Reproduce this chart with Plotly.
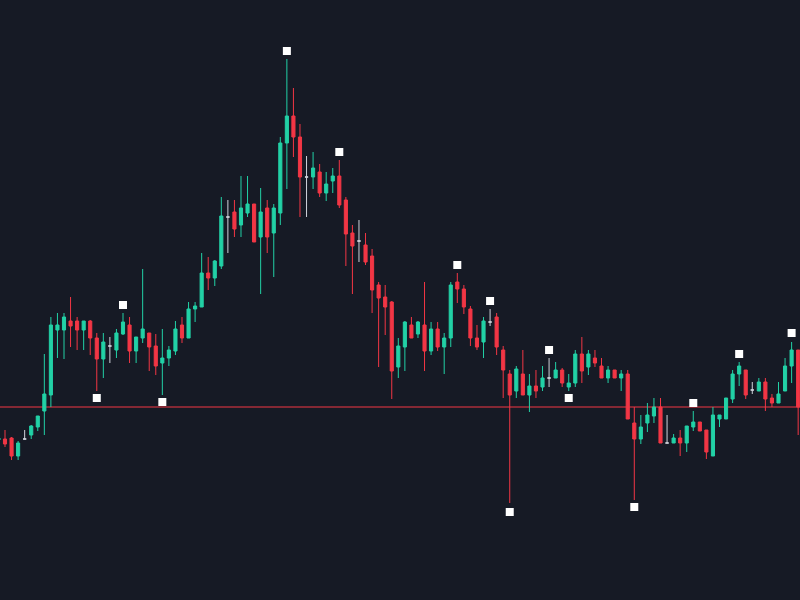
import plotly.graph_objects as go

# bar index
bars = list(range(123))

opens = [36.0, 36.1, 36.2, 34.4, 36.1, 36.5, 37.3, 38.9, 40.5, 47.0,
         47.0, 47.9, 47.9, 47.0, 47.9, 46.2, 44.1, 45.4, 45.0, 46.6,
         47.5, 44.9, 46.2, 46.7, 45.4, 43.7, 44.2, 44.9, 47.5, 46.2,
         49.1, 49.3, 52.7, 52.2, 53.4, 58.3, 58.8, 57.5, 58.7, 59.6,
         56.3, 59.2, 56.7, 58.7, 65.7, 68.4, 66.3, 62.3, 62.3, 62.8,
         60.7, 61.9, 62.4, 60.0, 56.7, 55.9, 55.5, 54.4, 51.5, 50.3,
         49.8, 43.3, 45.3, 47.5, 46.6, 47.5, 44.9, 47.1, 45.3, 46.2,
         51.8, 51.1, 49.1, 46.2, 45.8, 47.8, 48.3, 45.0, 42.6, 40.9,
         42.6, 40.5, 41.4, 41.3, 42.2, 42.2, 43.0, 41.3, 41.7, 44.6,
         43.3, 44.2, 43.4, 42.2, 43.0, 42.2, 42.6, 37.7, 36.1, 37.7,
         38.4, 39.3, 35.7, 35.7, 36.2, 35.7, 37.3, 37.8, 37.0, 34.4,
         38.1, 38.1, 40.1, 42.6, 43.0, 41.0, 40.9, 41.8, 40.2, 39.7,
         40.9, 43.4, 45.0]
highs = [36.4, 37.0, 36.3, 35.9, 37.0, 37.5, 38.4, 44.6, 48.3, 48.7,
         48.7, 50.3, 48.3, 47.9, 48.0, 46.7, 46.7, 46.3, 47.1, 48.7,
         48.3, 46.3, 53.1, 46.7, 46.6, 47.1, 45.4, 47.9, 48.3, 49.8,
         49.8, 54.7, 54.3, 54.0, 60.3, 60.0, 60.0, 62.4, 62.4, 59.6,
         61.2, 60.0, 59.6, 66.3, 74.1, 71.2, 67.6, 64.4, 64.8, 63.6,
         62.8, 63.2, 64.0, 60.3, 57.5, 58.0, 56.7, 55.1, 51.8, 51.5,
         49.9, 46.2, 47.9, 48.3, 47.9, 51.8, 47.8, 47.8, 46.7, 51.8,
         52.7, 51.5, 49.4, 47.5, 48.3, 49.1, 48.7, 45.4, 43.0, 43.4,
         45.0, 42.6, 43.0, 43.4, 44.2, 43.8, 43.2, 42.6, 45.0, 46.3,
         45.0, 45.0, 44.2, 43.4, 43.0, 43.0, 43.0, 39.3, 38.5, 39.7,
         40.2, 40.2, 38.5, 36.6, 37.0, 37.4, 38.9, 37.8, 37.0, 39.3,
         38.5, 40.2, 43.0, 43.8, 43.0, 41.8, 42.2, 42.2, 40.6, 41.8,
         44.2, 45.8, 45.0]
lows = [35.8, 35.3, 34.0, 34.0, 36.05, 36.1, 36.9, 36.5, 39.3, 44.2,
        44.1, 45.3, 45.0, 45.0, 44.5, 40.9, 42.2, 43.7, 44.2, 46.5,
        43.7, 43.7, 45.7, 42.9, 42.5, 40.5, 43.4, 44.5, 45.7, 46.2,
        47.8, 49.3, 51.0, 51.4, 53.1, 54.7, 56.3, 56.3, 58.3, 55.8,
        50.6, 54.7, 52.3, 57.5, 61.1, 64.3, 58.3, 58.3, 61.1, 60.3,
        59.9, 60.7, 59.2, 53.4, 50.6, 53.8, 53.5, 48.7, 43.3, 46.5,
        40.1, 42.2, 42.9, 46.2, 46.2, 42.9, 44.5, 44.9, 42.6, 45.3,
        49.7, 48.6, 45.4, 45.0, 44.2, 47.4, 44.5, 40.2, 29.7, 40.2,
        40.5, 38.8, 40.2, 40.9, 41.3, 42.2, 41.3, 40.9, 41.3, 41.7,
        42.5, 43.3, 42.2, 41.7, 42.2, 40.9, 38.1, 30.0, 35.6, 36.8,
        37.7, 35.7, 35.7, 35.7, 34.4, 34.8, 36.9, 36.9, 34.1, 34.4,
        37.3, 38.1, 39.7, 41.4, 40.1, 40.6, 40.9, 38.9, 39.3, 39.7,
        40.9, 41.7, 36.5]
closes = [36.2, 35.6, 34.4, 35.7, 36.1, 37.4, 38.4, 40.6, 47.5, 47.5,
          48.3, 47.4, 47.0, 47.9, 46.2, 44.1, 45.8, 45.4, 46.7, 47.8,
          44.9, 46.3, 47.1, 45.3, 43.4, 44.2, 45.0, 47.1, 46.2, 49.1,
          49.4, 52.7, 52.2, 53.9, 58.4, 58.3, 57.1, 59.2, 59.6, 55.8,
          58.8, 56.3, 59.2, 65.7, 68.4, 66.3, 62.3, 62.3, 63.2, 60.7,
          61.6, 62.4, 59.5, 56.6, 55.4, 55.9, 53.8, 51.0, 50.2, 49.3,
          42.9, 45.4, 47.8, 46.2, 47.8, 44.9, 47.1, 45.3, 46.2, 51.5,
          51.1, 49.3, 46.2, 45.3, 47.9, 47.8, 45.3, 43.0, 40.5, 43.1,
          40.5, 41.4, 40.9, 42.2, 42.2, 43.0, 41.7, 41.7, 44.6, 42.9,
          44.6, 43.7, 42.2, 43.0, 42.2, 42.6, 38.1, 36.1, 37.3, 38.5,
          39.3, 35.7, 35.7, 36.2, 35.7, 37.4, 37.8, 36.9, 34.8, 38.5,
          38.5, 40.2, 42.6, 43.4, 40.5, 41.0, 41.8, 40.1, 39.7, 40.6,
          43.4, 45.0, 39.3]

# pivot markers (bar index, price)
pivot_bars = [15, 19, 25, 44, 52, 70, 75, 78, 84, 87, 97, 106, 113, 121]
pivot_prices = [40.2, 49.5, 39.8, 74.9, 64.8, 53.5, 49.9, 28.8, 45.0, 40.2,
                29.3, 39.7, 44.6, 46.7]

level_price = 39.3

UP = "#22d1a6"
DOWN = "#f23645"
DOJI = "#d1d4dc"
BG = "#161a25"

reg = [i for i in bars if opens[i] != closes[i]]
doj = [i for i in bars if opens[i] == closes[i]]

def pick(arr, idx):
    return [arr[i] for i in idx]

fig = go.Figure()
fig.add_trace(go.Candlestick(
    x=pick(bars, reg), open=pick(opens, reg), high=pick(highs, reg),
    low=pick(lows, reg), close=pick(closes, reg),
    increasing=dict(line=dict(color=UP, width=1), fillcolor=UP),
    decreasing=dict(line=dict(color=DOWN, width=1), fillcolor=DOWN),
    hoverinfo="skip", showlegend=False,
))
fig.add_trace(go.Candlestick(
    x=pick(bars, doj), open=pick(opens, doj), high=pick(highs, doj),
    low=pick(lows, doj), close=pick(closes, doj),
    increasing=dict(line=dict(color=DOJI, width=1), fillcolor=DOJI),
    decreasing=dict(line=dict(color=DOJI, width=1), fillcolor=DOJI),
    hoverinfo="skip", showlegend=False,
))
fig.add_trace(go.Scatter(
    x=pivot_bars, y=pivot_prices, mode="markers",
    marker=dict(symbol="square", size=8, color="white", line=dict(width=0)),
    hoverinfo="skip", showlegend=False, cliponaxis=False,
))

fig.add_shape(type="line", xref="paper", x0=0, x1=1, yref="y",
              y0=level_price, y1=level_price,
              line=dict(color=DOWN, width=1), layer="below")

fig.update_layout(
    width=800, height=600,
    margin=dict(l=0, r=0, t=0, b=0),
    paper_bgcolor=BG, plot_bgcolor=BG,
    boxgap=0.32,
    showlegend=False,
    xaxis=dict(visible=False, range=[0.2365, 122.28], rangeslider=dict(visible=False),
               showgrid=False, zeroline=False),
    yaxis=dict(visible=False, range=[20, 80], showgrid=False, zeroline=False),
)

fig.write_html("out.html")
